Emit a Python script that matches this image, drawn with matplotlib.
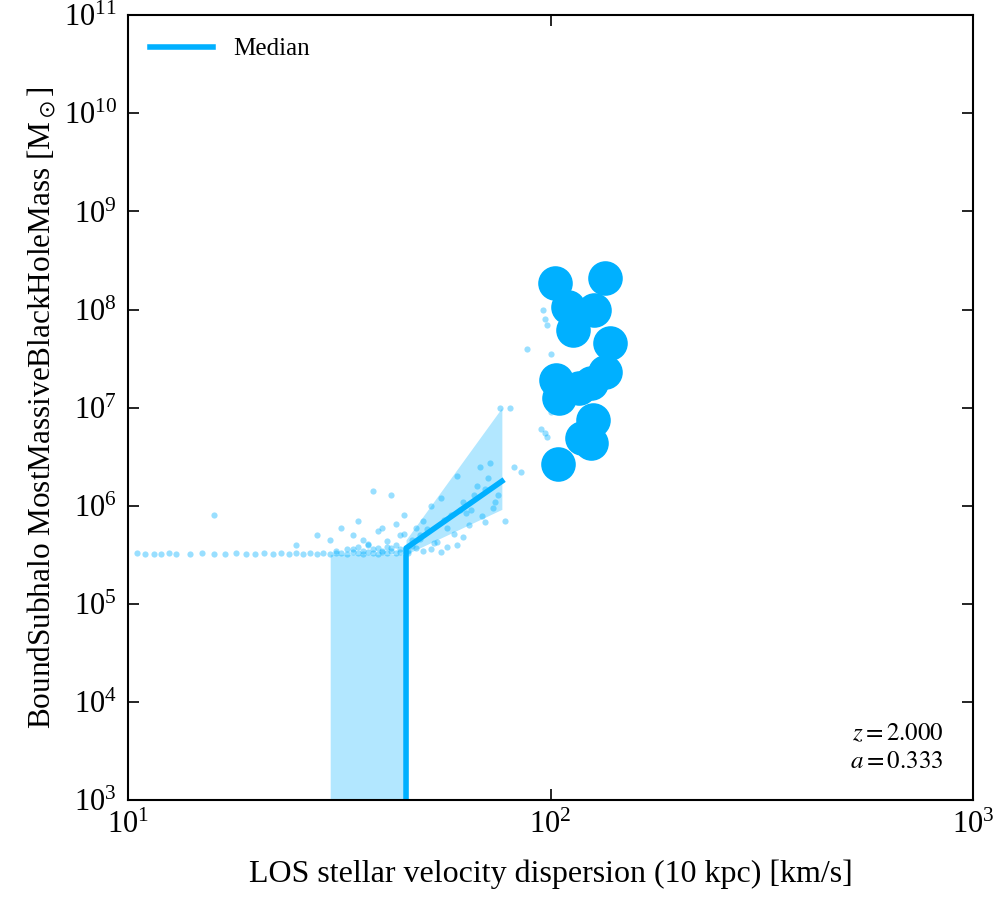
import matplotlib
matplotlib.use("Agg")
import matplotlib.pyplot as plt

plt.rcParams['font.family'] = ['Liberation Serif', 'DejaVu Serif']
plt.rcParams['mathtext.fontset'] = 'stix'

COLOR = '#00b0ff'

# small points (all subhaloes)
small_x = [10.5, 11, 11.5, 12, 12.5, 13, 14, 15, 16, 17, 18, 19, 20, 21, 22, 23, 24,
           25, 26, 27, 28, 29, 30, 31, 32, 33, 34, 35, 36, 37, 38, 39, 40, 41, 42, 43, 44,
           16, 25, 28, 30, 32, 34, 35, 37, 38, 40, 42, 44, 45, 47, 48, 50, 52, 55, 58,
           60, 62, 65, 68, 70, 72, 75, 76, 78, 80, 82, 85, 88, 95, 97, 98, 100, 96, 97,
           98, 100, 102, 100, 46, 50, 55, 60, 36, 39, 41, 43, 49, 53, 57, 63, 67, 73,
           33, 35, 37, 39, 41, 43, 45, 47, 49, 51, 54, 56, 59, 61, 64, 66, 69, 71, 74,
           31, 34, 36, 38, 40, 42, 44, 46, 48, 52, 57, 62, 70]
small_y = [3.3e5, 3.2e5, 3.2e5, 3.2e5, 3.3e5, 3.2e5, 3.2e5, 3.3e5, 3.2e5, 3.2e5, 3.3e5,
           3.2e5, 3.2e5, 3.3e5, 3.2e5, 3.3e5, 3.2e5, 3.3e5, 3.2e5, 3.3e5, 3.2e5, 3.3e5,
           3.2e5, 3.3e5, 3.3e5, 3.2e5, 3.4e5, 3.3e5, 3.2e5, 3.4e5, 3.3e5, 3.2e5, 3.4e5,
           3.3e5, 3.5e5, 3.3e5, 3.4e5,
           8e5, 4e5, 5e5, 4.5e5, 6e5, 5e5, 7e5, 4e5, 1.4e6, 6e5, 1.3e6, 5e5, 8e5, 4.5e5,
           6e5, 7e5, 1.0e6, 1.2e6, 8e5, 2.0e6, 1.1e6, 9e5, 2.5e6, 1.5e6, 2.7e6, 1.3e6,
           1.0e7, 7e5, 1.0e7, 2.5e6, 2.2e6, 4e7, 6e6, 5.5e6, 5e6, 3.5e7, 1.0e8, 8e7, 7e7,
           9e6, 1.6e7, 1.3e7, 3.3e5, 3.5e5, 3.4e5, 4.0e5, 4.5e5, 5.5e5, 3.8e5, 6.5e5,
           5.0e5, 4.2e5, 6.0e5, 8.5e5, 1.6e6, 9.5e5,
           3.6e5, 3.8e5, 4.1e5, 3.7e5, 4.4e5, 4.0e5, 5.2e5, 3.9e5, 4.6e5, 5.8e5, 4.3e5,
           7.2e5, 5.1e5, 9.0e5, 6.3e5, 1.3e6, 7.8e5, 1.9e6, 1.1e6,
           3.5e5, 3.6e5, 3.5e5, 3.6e5, 3.5e5, 3.7e5, 3.6e5, 3.5e5, 3.7e5, 3.6e5, 3.8e5,
           4.8e5, 6.8e5]

# big points (central black holes)
big_x = [102.5, 110, 113, 127, 134.6, 138, 103, 105, 117, 125, 134.6, 126, 118.8, 125, 104]
big_y = [1.86e8, 1.06e8, 6.2e7, 9.9e7, 2.1e8, 4.6e7, 1.9e7, 1.25e7, 1.58e7, 1.78e7,
         2.3e7, 7.5e6, 4.9e6, 4.4e6, 2.66e6]

# median and 16-84 percentile band
med_x = [45.5, 45.5, 76.7]
med_y = [1e2, 3.7e5, 1.78e6]
band_x = [30.1, 45.5, 45.5, 76.7]
band_lo = [1e2, 1e2, 3.2e5, 9.2e5]
band_hi = [3.2e5, 3.2e5, 4.5e5, 1.0e7]

fig = plt.figure(figsize=(9.96, 9), dpi=100)
ax = fig.add_axes([0.1285, 0.111, 0.8485, 0.872])

ax.fill_between(band_x, band_lo, band_hi, color=COLOR, alpha=0.3, lw=0)
ax.scatter(small_x, small_y, s=20, color=COLOR, alpha=0.4, lw=0)
ax.plot(med_x, med_y, color=COLOR, lw=4, label='Median')
ax.scatter(big_x, big_y, s=620, color=COLOR, lw=0, zorder=3)

ax.set_xscale('log')
ax.set_yscale('log')
ax.set_xlim(10, 1000)
ax.set_ylim(1e3, 1e11)
ax.minorticks_off()
ax.tick_params(which='both', direction='in', top=True, right=True, labelsize=22,
               length=8, width=1.2, pad=8)
for s in ax.spines.values():
    s.set_linewidth(1.5)

ax.set_xlabel('LOS stellar velocity dispersion (10 kpc) [km/s]', fontsize=23, labelpad=14)
ax.set_ylabel(r'BoundSubhalo MostMassiveBlackHoleMass [M$_\odot$]', fontsize=22.5)
ax.legend(loc='upper left', frameon=False, fontsize=18, handlelength=2.5)
ax.text(0.965, 0.035, '$z=2.000$\n$a=0.333$', transform=ax.transAxes,
        ha='right', va='bottom', fontsize=18, linespacing=1.3)

fig.savefig('out.png', dpi=100)
